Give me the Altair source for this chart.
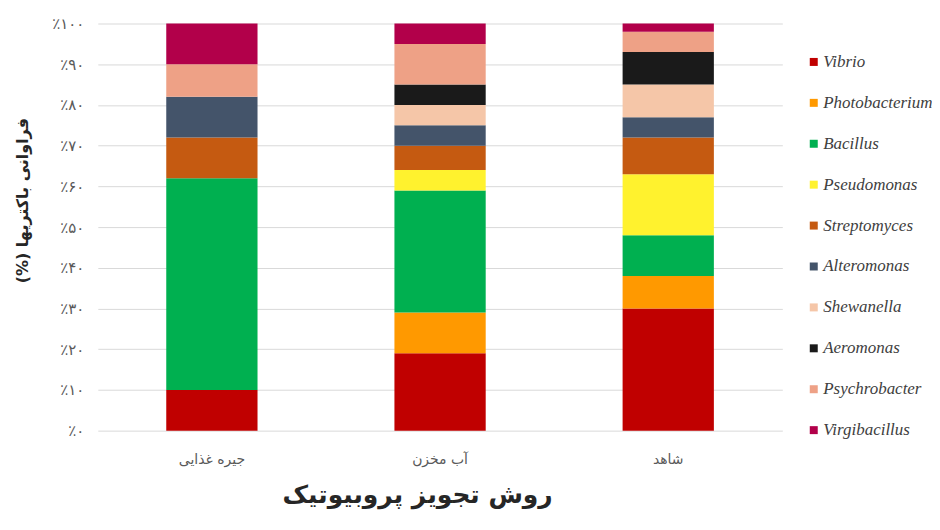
import altair as alt
import pandas as pd

categories = ["جیره غذایی", "آب مخزن", "شاهد"]
genera = ["Vibrio", "Photobacterium", "Bacillus", "Pseudomonas", "Streptomyces",
          "Alteromonas", "Shewanella", "Aeromonas", "Psychrobacter", "Virgibacillus"]
diet = [10, 0, 52, 0, 10, 10, 0, 0, 8, 10]
tank = [19, 10, 30, 5, 6, 5, 5, 5, 10, 5]
control = [30, 8, 10, 15, 9, 5, 8, 8, 5, 2]
colors = ["#C00000", "#FF9900", "#00B050", "#FFF22E", "#C55A11",
          "#44546A", "#F5C6A8", "#1A1A1A", "#EEA186", "#B2004A"]
y_ticks = [0, 10, 20, 30, 40, 50, 60, 70, 80, 90, 100]
y_tick_labels = ["٪۰", "٪۱۰", "٪۲۰", "٪۳۰", "٪۴۰", "٪۵۰", "٪۶۰", "٪۷۰", "٪۸۰", "٪۹۰", "٪۱۰۰"]

rows = []
for cat, vals in zip(categories, [diet, tank, control]):
    for i, (g, v) in enumerate(zip(genera, vals)):
        rows.append({"cat": cat, "genus": g, "value": v, "idx": i})
df = pd.DataFrame(rows)

label_expr = ""
for t, l in zip(y_ticks, y_tick_labels):
    label_expr += f"datum.value == {t} ? '{l}' : "
label_expr += "''"

FONT = "DejaVu Sans"

chart = alt.Chart(df).mark_bar().encode(
    x=alt.X("cat:N", sort=categories,
            scale=alt.Scale(paddingInner=0.6, paddingOuter=0.3),
            axis=alt.Axis(title="روش تجویز پروبیوتیک", labelAngle=0, domain=False, ticks=False,
                          labelPadding=22, labelFont=FONT, labelFontSize=14, labelColor="#595959",
                          titleFont=FONT, titleFontSize=25, titleFontWeight="bold",
                          titleColor="#262626", titlePadding=16, titleX=320, titleAlign="center")),
    y=alt.Y("value:Q", stack="zero", scale=alt.Scale(domain=[0, 100], nice=False),
            axis=alt.Axis(title="فراوانی باکتریها (%)\u200f", values=y_ticks, labelExpr=label_expr,
                          domain=False, ticks=False, grid=True, gridColor="#D9D9D9",
                          labelPadding=14, labelFont=FONT, labelFontSize=15, labelColor="#595959",
                          titleFont=FONT, titleFontSize=16, titleFontWeight="bold",
                          titleColor="#262626", titleX=-67, titleY=177)),
    color=alt.Color("genus:N", sort=genera,
                    scale=alt.Scale(domain=genera, range=colors),
                    legend=alt.Legend(title=None, orient="none", legendX=709, legendY=30,
                                      symbolType="square", symbolSize=64, symbolStrokeWidth=0,
                                      labelFont="Liberation Serif", labelFontStyle="italic",
                                      labelFontSize=17, labelColor="#404040", labelOffset=1,
                                      rowPadding=23.0, padding=0)),
    order=alt.Order("idx:Q", sort="ascending"),
).properties(
    width=686, height=408,
    autosize=alt.AutoSizeParams(type="none"),
    padding={"left": 90, "top": 15, "right": 150, "bottom": 90},
).configure_view(stroke=None)

chart.save("out.html", embed_options={"renderer": "svg", "actions": False})
